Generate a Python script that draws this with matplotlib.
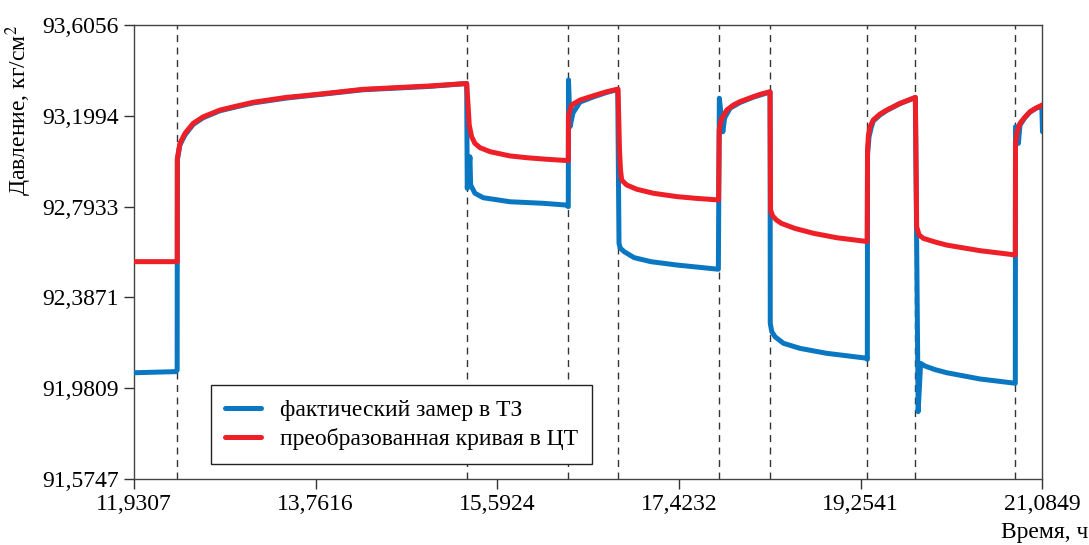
import matplotlib
matplotlib.use("Agg")
import matplotlib.pyplot as plt

# time, h  (measured curve in the test zone)
blue_t = [11.9307, 12.354, 12.366,
          12.368, 12.394, 12.445, 12.528, 12.629, 12.797, 12.966, 13.133, 13.301, 13.469, 13.637, 13.873, 14.241, 14.913, 15.283,
          15.289, 15.316, 15.323, 15.366, 15.450, 15.719, 16.055, 16.291, 16.307,
          16.309, 16.325, 16.354, 16.425, 16.559, 16.693, 16.805,
          16.818, 16.830, 16.869, 16.970, 17.138, 17.399, 17.819,
          17.829, 17.864, 17.882, 17.938, 18.038, 18.172, 18.340,
          18.342, 18.357, 18.390, 18.474, 18.642, 18.910, 19.314, 19.320,
          19.322, 19.337, 19.358, 19.380, 19.447, 19.515, 19.649, 19.804,
          19.832, 19.857, 19.902, 20.002, 20.121, 20.457, 20.811,
          20.813, 20.842, 20.858, 20.909, 20.959, 21.019, 21.078, 21.0849]
# pressure, kgf/cm2
blue_v = [92.050, 92.055, 92.062,
          93.002, 93.069, 93.114, 93.161, 93.191, 93.222, 93.240, 93.257, 93.268, 93.279, 93.287, 93.298, 93.316, 93.331, 93.344,
          92.875, 93.016, 92.890, 92.853, 92.833, 92.815, 92.808, 92.800, 92.793,
          93.360, 93.151, 93.212, 93.261, 93.284, 93.304, 93.317,
          92.629, 92.608, 92.592, 92.565, 92.547, 92.532, 92.513,
          93.278, 93.128, 93.190, 93.234, 93.259, 93.283, 93.306,
          92.271, 92.234, 92.211, 92.182, 92.159, 92.137, 92.115, 92.110,
          93.024, 93.105, 93.145, 93.176, 93.203, 93.223, 93.254, 93.281,
          91.876, 92.092, 92.080, 92.064, 92.050, 92.022, 92.003,
          93.151, 93.076, 93.158, 93.192, 93.216, 93.233, 93.243, 93.128]

# converted curve in the central point
red_t = [11.9307, 12.367,
         12.368, 12.394, 12.445, 12.528, 12.629, 12.797, 12.966, 13.133, 13.301, 13.469, 13.637, 13.873, 14.241, 14.913, 15.283,
         15.299, 15.309, 15.333, 15.366, 15.417, 15.518, 15.719, 15.888, 16.089, 16.307,
         16.309, 16.341, 16.425, 16.559, 16.693, 16.808,
         16.823, 16.833, 16.845, 16.895, 16.996, 17.163, 17.399, 17.601, 17.821,
         17.828, 17.846, 17.903, 17.971, 18.038, 18.172, 18.252, 18.340,
         18.345, 18.366, 18.405, 18.455, 18.588, 18.776, 19.012, 19.318,
         19.322, 19.331, 19.346, 19.380, 19.447, 19.515, 19.649, 19.804,
         19.817, 19.842, 19.886, 20.002, 20.121, 20.457, 20.811,
         20.813, 20.828, 20.858, 20.909, 20.959, 21.019, 21.083]
red_v = [92.547, 92.547,
         93.009, 93.076, 93.121, 93.166, 93.195, 93.225, 93.243, 93.260, 93.271, 93.282, 93.289, 93.300, 93.318, 93.333, 93.344,
         93.233, 93.158, 93.106, 93.076, 93.057, 93.039, 93.020, 93.012, 93.005, 92.999,
         93.203, 93.248, 93.270, 93.289, 93.307, 93.319,
         93.046, 92.957, 92.912, 92.890, 92.871, 92.853, 92.838, 92.830, 92.823,
         93.136, 93.181, 93.225, 93.248, 93.263, 93.285, 93.297, 93.307,
         92.778, 92.751, 92.733, 92.718, 92.696, 92.674, 92.654, 92.637,
         93.046, 93.114, 93.149, 93.181, 93.207, 93.225, 93.255, 93.282,
         92.703, 92.666, 92.651, 92.635, 92.621, 92.596, 92.577,
         93.076, 93.127, 93.166, 93.194, 93.218, 93.234, 93.248]

# switching moments (dashed lines)
events = [12.367, 15.283, 16.309, 16.805, 17.823, 18.340, 19.320, 19.804, 20.811]

x_ticks = [11.9307, 13.7616, 15.5924, 17.4232, 19.2541, 21.0849]
y_ticks = [91.5747, 91.9809, 92.3871, 92.7933, 93.1994, 93.6056]

plt.rcParams["font.family"] = ["Liberation Serif", "DejaVu Serif"]
plt.rcParams["mathtext.fontset"] = "stix"

fig = plt.figure(figsize=(10.89, 5.45), dpi=100)
ax = fig.add_axes([0.1230, 0.1211, 0.8343, 0.8330])

for t in events:
    ax.axvline(t, color="#333333", lw=1.0, ls=(0, (5, 4)), zorder=1)

ax.plot(blue_t, blue_v, color="#0a77c2", lw=3.6, solid_capstyle="round",
        solid_joinstyle="round", label="фактический замер в ТЗ", zorder=3)
ax.plot(red_t, red_v, color="#ee1f27", lw=3.6, solid_capstyle="round",
        solid_joinstyle="round", label="преобразованная кривая в ЦТ", zorder=4)

ax.set_xlim(x_ticks[0], x_ticks[-1])
ax.set_ylim(y_ticks[0], y_ticks[-1])
ax.set_xticks(x_ticks)
ax.set_yticks(y_ticks)
ax.set_xticklabels([f"{v:.4f}".replace(".", ",") for v in x_ticks])
ax.set_yticklabels([f"{v:.4f}".replace(".", ",") for v in y_ticks])
ax.tick_params(direction="out", length=7, width=1, labelsize=17, color="#333333", pad=4)

for s in ax.spines.values():
    s.set_color("#444444")
    s.set_linewidth(1.0)

ax.set_ylabel("Давление, кг/см$^2$", fontsize=17, labelpad=6, loc="top")
fig.text(0.999, 0.004, "Время, ч", fontsize=17, ha="right", va="bottom")

leg = ax.legend(loc="lower left", bbox_to_anchor=(0.085, 0.033), borderaxespad=0,
                fontsize=17, fancybox=False, edgecolor="#222222", framealpha=1,
                handlelength=1.5, handletextpad=0.8, borderpad=0.6, labelspacing=0.3)
leg.get_frame().set_linewidth(1.0)

fig.savefig("out.png", dpi=100)
